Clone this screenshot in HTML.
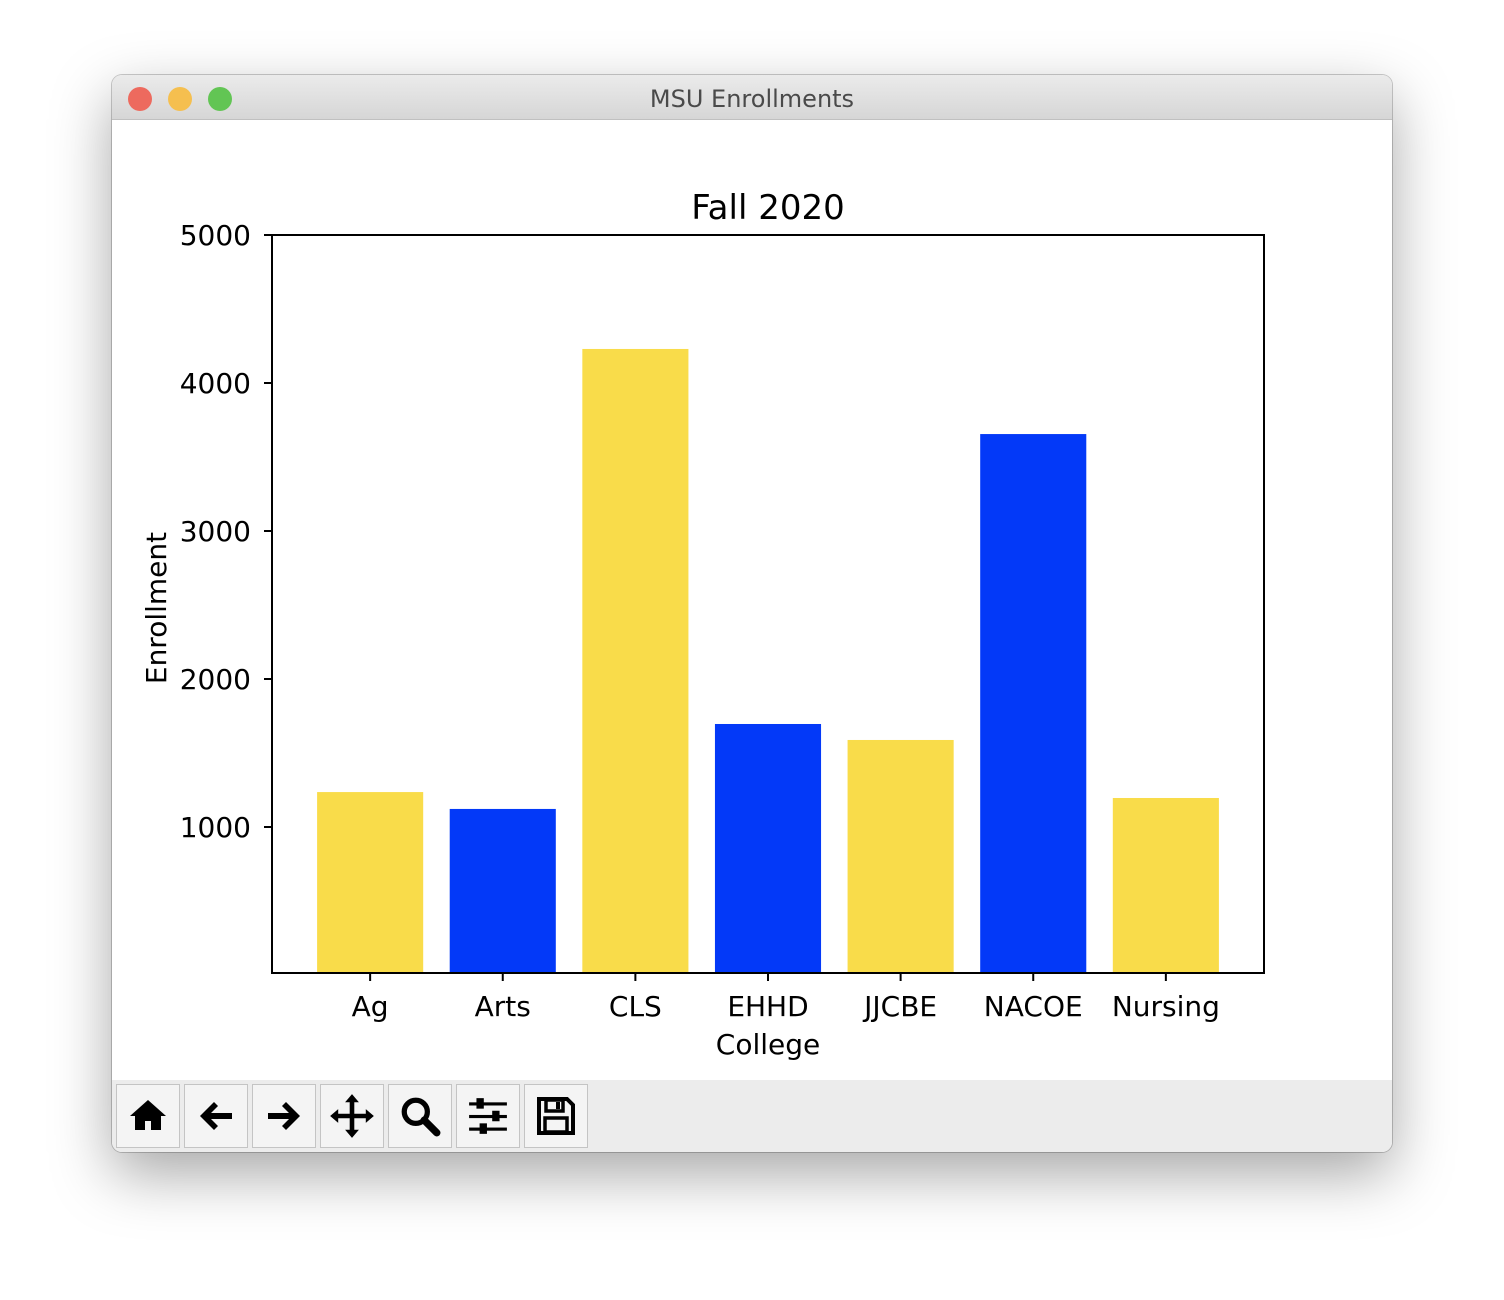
<!DOCTYPE html>
<html><head><meta charset="utf-8"><style>
body{margin:0;width:1504px;height:1300px;background:#fff;position:relative;overflow:hidden;font-family:"DejaVu Sans","Liberation Sans",sans-serif}
#win{position:absolute;left:112px;top:75px;width:1280px;height:1077px;border-radius:10px;background:#fff;box-shadow:0 22px 60px rgba(0,0,0,0.35),0 0 0 1px rgba(0,0,0,0.2);overflow:hidden}
#tb{position:absolute;left:0;top:0;width:1280px;height:44px;background:linear-gradient(#ebebeb,#d6d6d6);border-bottom:1px solid #c0c0c0;text-align:center;line-height:48px;font-size:24px;color:#4a4a4a}
.dot{position:absolute;top:12px;width:24px;height:24px;border-radius:50%}
#tool{position:absolute;left:0;top:1005px;width:1280px;height:72px;background:#ececec}
.btn{position:absolute;top:4px;width:62px;height:62px;border:1px solid #c4c4c4;background:#f4f4f4;display:flex;align-items:center;justify-content:center}
</style></head><body>
<div id="win">
<div id="tb">MSU Enrollments
<div class="dot" style="left:16px;background:#ed6a5e"></div>
<div class="dot" style="left:56px;background:#f5bf4f"></div>
<div class="dot" style="left:96px;background:#62c554"></div>
</div>
<div id="tool">
<div class="btn" style="left:4px"><svg width="40" height="40" viewBox="0 0 40 40"><path d="M20 4L2 20h5v14h10v-9h6v9h10V20h5z" fill="#000"/></svg></div>
<div class="btn" style="left:72px"><svg width="40" height="40" viewBox="0 0 40 40"><path d="M4 20L18 6l4 4-7 7h21v6H15l7 7-4 4z" fill="#000"/></svg></div>
<div class="btn" style="left:140px"><svg width="40" height="40" viewBox="0 0 40 40"><path d="M36 20L22 6l-4 4 7 7H4v6h21l-7 7 4 4z" fill="#000"/></svg></div>
<div class="btn" style="left:208px"><svg width="46" height="46" viewBox="0 0 40 40"><path d="M20 1l6 7h-4v10h10v-4l7 6-7 6v-4H22v10h4l-6 7-6-7h4V22H8v4l-7-6 7-6v4h10V8h-4z" fill="#000"/></svg></div>
<div class="btn" style="left:276px"><svg width="42" height="42" viewBox="0 0 40 40"><circle cx="16" cy="16" r="11" fill="none" stroke="#000" stroke-width="5"/><path d="M24 24l12 12" stroke="#000" stroke-width="7" stroke-linecap="round"/></svg></div>
<div class="btn" style="left:344px"><svg width="42" height="42" viewBox="0 0 40 40" fill="#000"><rect x="2" y="7" width="36" height="3"/><rect x="2" y="19" width="36" height="3"/><rect x="2" y="31" width="36" height="3"/><rect x="9" y="3" width="7" height="10"/><rect x="24" y="15" width="7" height="10"/><rect x="12" y="27" width="7" height="10"/></svg></div>
<div class="btn" style="left:412px"><svg width="40" height="40" viewBox="0 0 40 40"><path d="M3 3h28l6 6v28H3z" fill="none" stroke="#000" stroke-width="4"/><rect x="10" y="4" width="17" height="11" fill="none" stroke="#000" stroke-width="3.5"/><rect x="20" y="6" width="4" height="7" fill="#000"/><rect x="9" y="22" width="22" height="14" fill="none" stroke="#000" stroke-width="3.5"/></svg></div>
</div>
</div>
<svg id="chart" width="1504" height="1300" style="position:absolute;left:0;top:0"></svg>
<script>
const categories=["Ag","Arts","CLS","EHHD","JJCBE","NACOE","Nursing"];
const values=[1236,1122,4230,1696,1588,3655,1196];
const barColors=["#f9dc4a","#0339f8","#f9dc4a","#0339f8","#f9dc4a","#0339f8","#f9dc4a"];
const yTicks=[1000,2000,3000,4000,5000];
const L=272,R=1264,T=235,B=973,yMin=13.5,yMax=5000,xMin=-0.74,xMax=6.74;
const ys=v=>B-(v-yMin)/(yMax-yMin)*(B-T);
const xs=i=>L+(i-xMin)/(xMax-xMin)*(R-L);
const svg=document.getElementById('chart');const NS='http://www.w3.org/2000/svg';
function mk(t,a,txt){const e=document.createElementNS(NS,t);for(const k in a)e.setAttribute(k,a[k]);if(txt!==undefined)e.textContent=txt;svg.appendChild(e);return e;}
const bw=(xs(0.4)-xs(-0.4));
values.forEach((v,i)=>{const r=mk('rect',{x:xs(i)-bw/2,y:ys(v),width:bw,height:B-ys(v),fill:barColors[i]});

});
const f='font-family:"DejaVu Sans","Liberation Sans",sans-serif';
const ax=mk('rect',{x:L,y:T,width:R-L,height:B-T,fill:'none',stroke:'#000','stroke-width':2});


yTicks.forEach(t=>{const y=ys(t);mk('line',{x1:L-8,x2:L,y1:y,y2:y,stroke:'#000','stroke-width':2});
const tx=mk('text',{x:L-21,y:y+10,'text-anchor':'end','font-size':28,style:f},String(t));

});
categories.forEach((c,i)=>{const x=xs(i);mk('line',{x1:x,x2:x,y1:B,y2:B+8,stroke:'#000','stroke-width':2});
const tx=mk('text',{x:x,y:1016,'text-anchor':'middle','font-size':28,style:f},c);

});
const t1=mk('text',{x:768,y:219,'text-anchor':'middle','font-size':34,style:f},'Fall 2020');


const t2=mk('text',{x:768,y:1054,'text-anchor':'middle','font-size':28,style:f},'College');


const t3=mk('text',{x:0,y:0,'text-anchor':'middle','font-size':28,style:f,transform:'translate(166,608) rotate(-90)'},'Enrollment');


</script>
</body></html>
